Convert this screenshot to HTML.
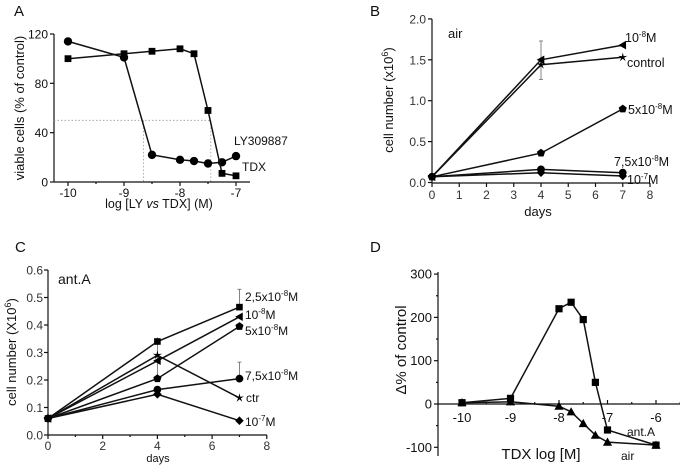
<!DOCTYPE html>
<html><head><meta charset="utf-8"><style>
html,body{margin:0;padding:0;background:#fff}
svg{display:block;font-family:"Liberation Sans",Arial,sans-serif}
</style></head><body>
<svg id="fig" width="680" height="474" viewBox="0 0 680 474">
<g id="g" stroke-linecap="butt"></g>
</svg>
<script>
// Panel A data
const aX = [-10,-9,-8.5,-8,-7.75,-7.5,-7.25,-7];
const aLY = [114,101,22,18,17,15,16,21];
const aTDX = [100,104,106,108,104,58,7,5];
const aXTicks = [-10,-9,-8,-7];
const aYTicks = [0,40,80,120];
// Panel B data
const bDays = [0,4,7];
const b1e8 = [0.07,1.50,1.68];
const bCtrl = [0.07,1.44,1.53];
const b5e8 = [0.07,0.36,0.90];
const b75e8 = [0.07,0.16,0.12];
const b1e7 = [0.07,0.12,0.08];
const bXTicks = [0,1,2,3,4,5,6,7,8];
const bYTicks = [0,0.5,1.0,1.5,2.0];
// Panel C data
const cDays = [0,4,7];
const c25e8 = [0.06,0.34,0.465];
const c1e8 = [0.06,0.27,0.43];
const c5e8 = [0.06,0.205,0.395];
const cCtr = [0.06,0.29,0.135];
const c75e8 = [0.06,0.165,0.205];
const c1e7 = [0.06,0.148,0.052];
const cXTicks = [0,2,4,6,8];
const cYTicks = [0,0.1,0.2,0.3,0.4,0.5,0.6];
// Panel D data
const dX = [-10,-9,-8,-7.75,-7.5,-7.25,-7,-6];
const dAntA = [3,13,220,235,195,50,-60,-95];
const dAir = [3,5,-5,-18,-45,-72,-88,-95];
const dXTicks = [-10,-9,-8,-7,-6];
const dYTicks = [-100,0,100,200,300];

const NS="http://www.w3.org/2000/svg";
const G=document.getElementById('g');
function el(tag,attrs,parent){const e=document.createElementNS(NS,tag);for(const k in attrs)e.setAttribute(k,attrs[k]);(parent||G).appendChild(e);return e;}
function txt(x,y,s,size,anchor,name,extra){const t=el('text',Object.assign({x:x,y:y,'font-size':size,'text-anchor':anchor||'start',fill:'#111'},extra||{}));t.innerHTML=s;


return t;}
function line(x1,y1,x2,y2,name,w,dash,col){const l=el('line',{x1,y1,x2,y2,stroke:col||'#111','stroke-width':w||1.2});if(dash)l.setAttribute('stroke-dasharray',dash);


return l;}
function marker(type,x,y,s,name){let e;
 if(type==='sq')e=el('rect',{x:x-s,y:y-s,width:2*s,height:2*s,fill:'#000'});
 else if(type==='ci')e=el('circle',{cx:x,cy:y,r:s+0.6,fill:'#000'});
 else if(type==='tu')e=el('polygon',{points:`${x},${y-s-1} ${x-s-1},${y+s} ${x+s+1},${y+s}`,fill:'#000'});
 else if(type==='tl')e=el('polygon',{points:`${x-s-1},${y} ${x+s},${y-s-1} ${x+s},${y+s+1}`,fill:'#000'});
 else if(type==='di')e=el('polygon',{points:`${x},${y-s-1} ${x+s+1},${y} ${x},${y+s+1} ${x-s-1},${y}`,fill:'#000'});
 else if(type==='pe'){let p=[];for(let i=0;i<5;i++){const a=-Math.PI/2+i*2*Math.PI/5;p.push((x+(s+1)*Math.cos(a)).toFixed(1)+','+(y+(s+1)*Math.sin(a)).toFixed(1));}e=el('polygon',{points:p.join(' '),fill:'#000'});}
 else if(type==='st'){let p=[];for(let i=0;i<10;i++){const a=-Math.PI/2+i*Math.PI/5;const r=i%2?s*0.45:s+1.5;p.push((x+r*Math.cos(a)).toFixed(1)+','+(y+r*Math.sin(a)).toFixed(1));}e=el('polygon',{points:p.join(' '),fill:'#000'});}
 
 
}
function series(xs,ys,sx,sy,type,s,name){
 const pts=xs.map((v,i)=>sx(v).toFixed(1)+','+sy(ys[i]).toFixed(1)).join(' ');
 const p=el('polyline',{points:pts,fill:'none',stroke:'#111','stroke-width':1.5});
 
 
 xs.forEach((v,i)=>marker(type,sx(v),sy(ys[i]),s,name+'-point'));
}

// ---------- Panel A ----------
{const sx=v=>68+(v+10)*56, sy=v=>182-v*148/120;
 txt(14,16,'A',15,'start','panel-a-label');
 line(54,34,54,182,'a-y-axis');line(54,182,250,182,'a-x-axis');
 aYTicks.forEach(v=>{line(50,sy(v),54,sy(v),'a-y-tick');txt(48,sy(v)+4.5,v,12,'end','a-y-tick-label');});
 aXTicks.forEach(v=>{line(sx(v),182,sx(v),186,'a-x-tick');txt(sx(v),197,'-'+(-v),12,'middle','a-x-tick-label');});
 [-9.5,-8.5,-7.5].forEach(v=>line(sx(v),182,sx(v),184,'a-x-minor-tick'));
 line(54,sy(50),sx(-7.45),sy(50),'a-ic50-hline',0.8,'1.5,2','#999');
 line(sx(-8.65),sy(50),sx(-8.65),182,'a-ic50-vline-ly',0.8,'1.5,2','#999');
 line(sx(-7.45),sy(50),sx(-7.45),182,'a-ic50-vline-tdx',0.8,'1.5,2','#999');
 series(aX,aLY,sx,sy,'ci',3.6,'a-ly309887');
 series(aX,aTDX,sx,sy,'sq',3.4,'a-tdx');
 txt(234,145,'LY309887',12,'start','a-ly309887-label');
 txt(242,171,'TDX',12,'start','a-tdx-label');
 txt(159,208,'log [LY <tspan font-style="italic">vs</tspan> TDX] (M)',12.5,'middle','a-x-axis-title');
 txt(24,108,'viable cells (% of control)',13,'middle','a-y-axis-title',{transform:'rotate(-90 24 108)'});
}
// ---------- Panel B ----------
{const sx=v=>432+v*27.25, sy=v=>182.5-v*81.8;
 txt(370,16,'B',15,'start','panel-b-label');
 line(432,19,432,183,'b-y-axis');line(432,183,650,183,'b-x-axis');
 bYTicks.forEach(v=>{line(428,sy(v),432,sy(v),'b-y-tick');txt(426,sy(v)+4.5,v.toFixed(1),12,'end','b-y-tick-label',{fill:'#333'});});
 bXTicks.forEach(v=>{line(sx(v),183,sx(v),187,'b-x-tick');txt(sx(v),199,v,12,'middle','b-x-tick-label',{fill:'#333'});});
 line(sx(4),sy(1.26),sx(4),sy(1.73),'b-error-bar',0.8,null,'#666');
 line(sx(4)-2,sy(1.73),sx(4)+2,sy(1.73),'b-error-cap',0.8,null,'#666');
 line(sx(4)-2,sy(1.26),sx(4)+2,sy(1.26),'b-error-cap',0.8,null,'#666');
 series(bDays,b1e7,sx,sy,'di',3.3,'b-1e-7');
 series(bDays,b75e8,sx,sy,'ci',3.3,'b-7.5e-8');
 series(bDays,b5e8,sx,sy,'pe',3.3,'b-5e-8');
 series(bDays,bCtrl,sx,sy,'st',3.3,'b-control');
 series(bDays,b1e8,sx,sy,'tl',3.3,'b-1e-8');
 txt(448,38,'air',13,'start','b-air-label');
 txt(625,42,'10<tspan dy="-5" font-size="8">-8</tspan><tspan dy="5">M</tspan>',12.5,'start','b-1e-8-label');
 txt(627,67,'control',12.5,'start','b-control-label');
 txt(628,114,'5x10<tspan dy="-5" font-size="8">-8</tspan><tspan dy="5">M</tspan>',12.5,'start','b-5e-8-label');
 txt(614,166,'7,5x10<tspan dy="-5" font-size="8">-8</tspan><tspan dy="5">M</tspan>',12.5,'start','b-7.5e-8-label');
 txt(627,184,'10<tspan dy="-5" font-size="8">-7</tspan><tspan dy="5">M</tspan>',12.5,'start','b-1e-7-label');
 txt(538,216,'days',13,'middle','b-x-axis-title');
 txt(393,100,'cell number (x10<tspan dy="-5" font-size="9">6</tspan><tspan dy="5">)</tspan>',13,'middle','b-y-axis-title',{transform:'rotate(-90 393 100)'});
}
// ---------- Panel C ----------
{const sx=v=>48+v*27.35, sy=v=>435-v*275;
 txt(15,252,'C',15,'start','panel-c-label');
 line(48,270,48,435,'c-y-axis');line(48,435,267,435,'c-x-axis');
 cYTicks.forEach(v=>{line(44,sy(v),48,sy(v),'c-y-tick');txt(43,sy(v)+4.5,v.toFixed(1),12,'end','c-y-tick-label',{fill:'#333'});});
 cXTicks.forEach(v=>{line(sx(v),435,sx(v),439,'c-x-tick');txt(sx(v),450,v,12,'middle','c-x-tick-label',{fill:'#333'});});
 [1,3,5,7].forEach(v=>line(sx(v),435,sx(v),437,'c-x-minor-tick'));
 line(sx(7),sy(0.465),sx(7),sy(0.53),'c-error-bar',0.8,null,'#666');
 line(sx(7)-2,sy(0.53),sx(7)+2,sy(0.53),'c-error-cap',0.8,null,'#666');
 line(sx(7),sy(0.205),sx(7),sy(0.265),'c-error-bar',0.8,null,'#666');
 line(sx(7)-2,sy(0.265),sx(7)+2,sy(0.265),'c-error-cap',0.8,null,'#666');
 line(sx(4),sy(0.2),sx(4),sy(0.355),'c-error-bar',0.8,null,'#666');
 series(cDays,c1e7,sx,sy,'di',3.3,'c-1e-7');
 series(cDays,c75e8,sx,sy,'ci',3.3,'c-7.5e-8');
 series(cDays,cCtr,sx,sy,'st',3.3,'c-ctr');
 series(cDays,c5e8,sx,sy,'pe',3.3,'c-5e-8');
 series(cDays,c1e8,sx,sy,'tl',3.3,'c-1e-8');
 series(cDays,c25e8,sx,sy,'sq',3.3,'c-2.5e-8');
 txt(58,284,'ant.A',14,'start','c-ant-a-label');
 txt(245,301,'2,5x10<tspan dy="-5" font-size="8">-8</tspan><tspan dy="5">M</tspan>',12,'start','c-2.5e-8-label');
 txt(245,319,'10<tspan dy="-5" font-size="8">-8</tspan><tspan dy="5">M</tspan>',12,'start','c-1e-8-label');
 txt(245,335,'5x10<tspan dy="-5" font-size="8">-8</tspan><tspan dy="5">M</tspan>',12,'start','c-5e-8-label');
 txt(245,380,'7,5x10<tspan dy="-5" font-size="8">-8</tspan><tspan dy="5">M</tspan>',12,'start','c-7.5e-8-label');
 txt(246,402,'ctr',12,'start','c-ctr-label');
 txt(245,426,'10<tspan dy="-5" font-size="8">-7</tspan><tspan dy="5">M</tspan>',12,'start','c-1e-7-label');
 txt(158,462,'days',11,'middle','c-x-axis-title');
 txt(16,352,'cell number (X10<tspan dy="-5" font-size="9">6</tspan><tspan dy="5">)</tspan>',13,'middle','c-y-axis-title',{transform:'rotate(-90 16 352)'});
}
// ---------- Panel D ----------
{const sx=v=>462+(v+10)*48.5, sy=v=>404-v*0.433;
 txt(370,252,'D',15,'start','panel-d-label');
 line(438,272,438,456,'d-y-axis');line(438,404,680,404,'d-x-axis');
 dYTicks.forEach(v=>{line(434,sy(v),438,sy(v),'d-y-tick');txt(432,sy(v)+4.5,v,13,'end','d-y-tick-label');});
 [-50,50,150,250].forEach(v=>line(436,sy(v),438,sy(v),'d-y-minor-tick'));
 dXTicks.forEach(v=>{line(sx(v),404,sx(v),400,'d-x-tick');txt(sx(v),422,'-'+(-v),13,'middle','d-x-tick-label');});
 [-9.5,-8.5,-7.5,-6.5,-5.5].forEach(v=>line(sx(v),404,sx(v),402,'d-x-minor-tick'));
 series(dX,dAir,sx,sy,'tu',3.6,'d-air');
 series(dX,dAntA,sx,sy,'sq',3.6,'d-ant-a');
 txt(627,436,'ant.A',12,'start','d-ant-a-label');
 txt(621,460,'air',12,'start','d-air-label');
 txt(541,459,'TDX log [M]',15,'middle','d-x-axis-title');
 txt(406,350,'Δ% of  control',15,'middle','d-y-axis-title',{transform:'rotate(-90 406 350)'});
}
</script>
</body></html>
